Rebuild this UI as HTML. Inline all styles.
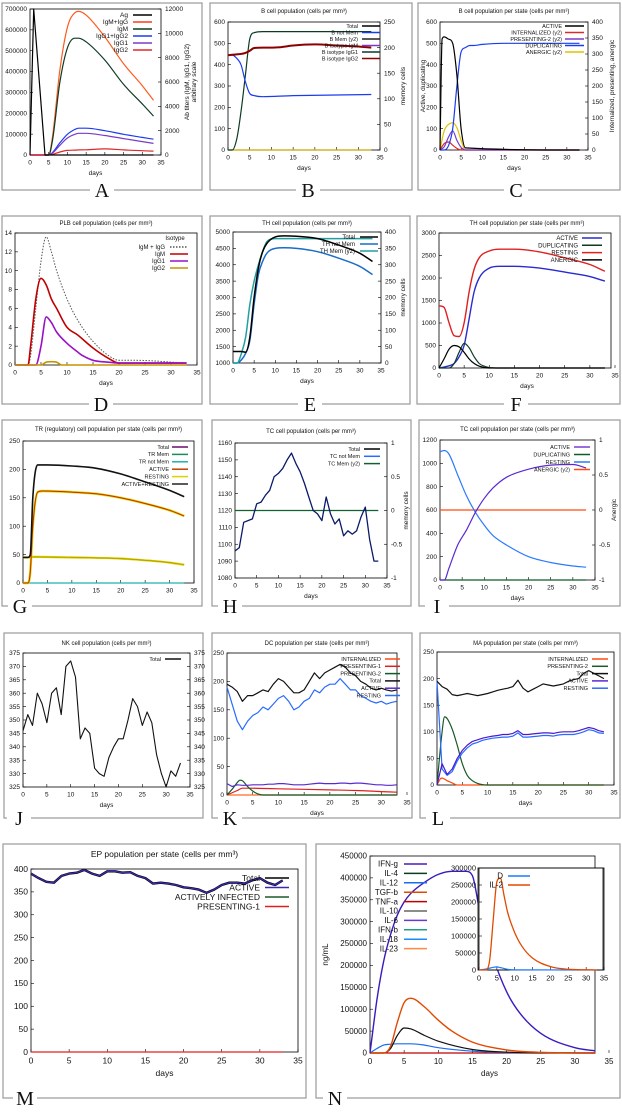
<!DOCTYPE html>
<html><head><meta charset="utf-8"><style>
html,body{margin:0;padding:0;background:#fff;}
svg{display:block;font-family:"Liberation Sans",sans-serif;}
</style></head><body>
<svg id="fig" width="622" height="1116" viewBox="0 0 622 1116" xmlns="http://www.w3.org/2000/svg">
<rect x="0" y="0" width="622" height="1116" fill="#fff"/>
</svg>
<script>
// ---------- DATA ----------
const DAYS = Array.from({length:34},(_,i)=>i);
// A
const A_ag_d=[0,1,4,33], A_ag=[0,700000,0,0];
const A_d=[0,5,6,8,10,12,13,15,20,25,30,33];
const A_igmg=[0,0,1500,7000,10500,11700,11800,11500,9700,7500,5700,4500];
const A_igm=[0,0,1200,6000,8800,9600,9600,9300,7800,5800,4200,3200];
const A_igg12=[0,0,200,1000,1700,2100,2200,2200,2000,1700,1450,1300];
const A_igg1=[0,0,150,800,1400,1700,1780,1780,1600,1350,1100,950];
const A_igg2=[0,0,50,250,380,400,420,430,500,420,350,320];
// B
const B_tot_d=[0,1,2,3,4,5,6,8,10,33], B_tot=[0,0,50,180,350,520,550,555,555,555];
const B_nm_d=[0,1,2,3,4,5,6,8,15,33], B_nm=[445,445,430,400,320,265,255,250,255,260];
const B_mem_d=[0,2,4,5,6,8,10,12,15,20,25,30,33], B_mem=[445,448,455,465,478,480,480,482,490,495,490,485,480];
// C
const C_act_d=[0,0.5,1,2,3,4,5,6,33], C_act=[0,520,530,520,500,350,100,10,0];
const C_dup_d=[0,1,2,3,4,5,6,7,8,10,15,20,33], C_dup=[0,0,20,100,300,460,480,490,490,495,500,500,500];
const C_pre_d=[0,1,2,3,4,5,6,33], C_pre=[0,10,40,60,30,8,0,0];
const C_ane_d=[0,1,2,3,4,5,6,33], C_ane=[0,60,80,85,70,30,0,0];
const C_int_d=[0,1,2,3,4,5,33], C_int=[0,20,25,15,5,0,0];
// D
const D_all_d=[0,2.5,3,4,5,6,7,8,10,12,15,18,20,23,33], D_all=[0,0,1,6,11,13.6,12,10,7,4.8,2.5,1,0.5,0.5,0.2];
const D_igm_d=[0,2.5,3,4,5,6,7,8,10,12,15,18,20,33], D_igm=[0,0,2,7,9.2,8.5,7,6,4,3.2,1.8,0.7,0.2,0.2];
const D_g1_d=[0,4,5,6,7,8,10,12,13,15,18,20,33], D_g1=[0,0,2,5.1,4.5,3.5,2.3,1.4,1,0.5,0.3,0.2,0.2];
const D_g2_d=[0,5,6,7,8,9,33], D_g2=[0,0,0.3,0.35,0.3,0,0];
// E
const E_tot_d=[0,2,3,4,5,6,7,8,10,12,15,20,25,30,33], E_tot=[1350,1350,1330,1800,3000,3900,4400,4650,4850,4880,4870,4800,4600,4350,4100];
const E_nm_d=[0,1,2,3,4,5,6,7,8,10,12,15,20,25,30,33], E_nm=[1000,1000,1100,1300,1700,2800,3700,4100,4350,4500,4520,4500,4400,4200,3950,3700];
const E_mem_d=[0,1,2,3,4,5,6,7,8,10,15,20,25,33], E_mem=[0,0,30,80,180,250,300,340,370,380,380,380,380,380];
// F
const F_res_d=[0,1,2,3,4,5,6,7,8,10,12,15,20,25,30,33], F_res=[1380,1350,1000,720,700,1000,1700,2200,2450,2600,2640,2640,2580,2450,2300,2150];
const F_act_d=[0,2,3,4,5,6,7,8,10,12,15,20,25,30,33], F_act=[0,50,100,250,500,1100,1700,2000,2220,2260,2260,2220,2130,2030,1930];
const F_ane_d=[0,1,2,3,4,5,6,7,8,10,33], F_ane=[0,200,420,500,470,350,200,100,40,0,0];
const F_dup_d=[0,2,3,4,5,6,7,8,9,10,12,33], F_dup=[0,0,100,350,550,450,250,100,40,10,0,0];
// G
const G_tot_d=[0,1,1.5,2,3,5,10,15,20,25,30,33], G_tot=[45,45,50,150,208,208,206,202,192,178,163,152];
const G_act_d=[0,1,1.5,2,3,4,10,15,20,25,30,33], G_act=[0,0,20,100,160,162,160,157,150,140,128,118];
const G_res_d=[0,1,2,3,10,20,25,30,33], G_res=[45,45,46,46,45,43,40,36,32];
// H
const H_tot=[1096,1098,1113,1114,1115,1124,1125,1129,1132,1140,1142,1145,1150,1154,1148,1143,1136,1128,1120,1118,1114,1128,1118,1112,1115,1105,1108,1106,1108,1116,1122,1103,1090,1090];
// I
const I_d=[0,1,2,4,6,8,10,12,15,20,25,30,33];
const I_act=[0,0,100,300,430,580,700,790,880,950,985,990,960];
const I_res=[1100,1110,1080,900,720,580,470,380,300,200,150,120,110];
// J
const J_tot=[346,352,348,360,356,349,360,362,352,370,372,366,343,347,345,332,330,329,336,340,343,343,350,358,355,348,353,349,337,330,325,331,329,334];
// K
const K_tot=[195,190,182,165,175,175,180,185,182,195,205,200,190,180,180,185,200,215,205,215,220,225,230,225,215,210,200,195,188,185,188,185,183,185];
const K_res=[190,160,130,115,130,140,145,155,150,160,170,175,165,150,155,165,170,185,180,190,195,195,205,195,185,185,175,170,165,162,165,160,163,165];
const K_act=[20,15,18,17,17,18,18,18,19,19,20,20,19,18,18,18,19,20,21,20,20,20,21,21,20,21,21,20,19,18,18,17,17,18];
const K_p2_d=[0,1,2,2.5,3,4,5,6,7,33], K_p2=[0,10,22,26,25,15,7,2,0,0];
const K_p1_d=[0,2,3,4,10,20,25,30,33], K_p1=[0,8,12,12,11,9,8,6,5];
// L
const L_tot=[195,185,180,170,168,170,172,170,168,170,172,175,178,180,182,185,197,182,175,180,185,190,188,186,188,190,195,198,200,210,215,210,205,200];
const L_act=[0,40,20,30,50,65,75,82,85,88,90,92,93,95,95,97,102,95,95,96,97,98,98,97,99,100,100,100,102,105,108,106,102,100];
const L_res=[195,30,18,25,45,60,70,77,80,84,86,88,89,90,90,92,98,90,90,91,92,93,93,92,94,95,95,95,97,100,104,102,98,97];
const L_p2_d=[0,1,1.5,2,3,4,5,6,7,8,10,33], L_p2=[0,100,128,125,105,75,40,18,8,3,0,0];
const L_int_d=[0,0.7,1,2,3,4,33], L_int=[0,12,13,8,4,0,0];
// M
const M_act=[390,380,372,370,385,390,392,398,390,385,395,395,392,393,385,380,368,370,368,365,360,358,355,348,355,365,370,370,368,375,380,370,365,375];
// N
const N_ifng_d=[0,1,2,3,4,5,6,8,10,12,14,15,16,18,20,22,25,30,33], N_ifng=[0,120000,210000,270000,315000,345000,365000,390000,408000,415000,415000,405000,330000,220000,140000,90000,45000,12000,5000];
const N_il10_d=[0,2,3,4,5,6,8,10,15,20,25,33], N_il10=[0,0,10000,40000,57000,55000,40000,27000,8000,2000,300,0];
const N_tgf_d=[0,2,3,4,5,6,8,10,12,15,20,25,33], N_tgf=[0,0,15000,70000,115000,125000,105000,75000,50000,25000,7000,1500,0];
const N_il12_d=[0,1,2,3,4,5,6,8,10,15,20,33], N_il12=[0,10000,18000,20000,21000,21000,21000,18000,12000,4000,1000,0];
const N_il2_d=[0,2,3,4,5,6,7,8,10,12,15,20,25,30,33], N_il2=[0,0,30000,150000,260000,270000,220000,170000,110000,70000,35000,10000,2000,500,0];
const N_dd_d=[0,2,4,5,6,8,10,33], N_dd=[0,3000,8000,9000,7000,2000,500,0];

// ---------- HELPERS ----------
const NS='http://www.w3.org/2000/svg';
const svg=document.getElementById('fig');
function mk(tag,parent){const e=document.createElementNS(NS,tag);parent.appendChild(e);return e;}
function at(e,o){for(const k in o)e.setAttribute(k,o[k]);return e;}
function text(parent,x,y,s,size,anchor,name,rot,family){
  const t=mk('text',parent);
  at(t,{x:x,y:y,'font-size':size,'text-anchor':anchor||'start',fill:'#111'});
  if(family)t.setAttribute('font-family',family);
  if(rot)t.setAttribute('transform','rotate(-90 '+x+' '+y+')');
  t.textContent=s;
  
  
  return t;
}
function fmt(v){return Math.abs(v)<1e-9?'0':String(Math.round(v*100)/100);}
function panel(c){
  const g=mk('g',svg);
  
  
  const fr=mk('rect',g);
  at(fr,{x:c.fx,y:c.fy,width:c.fw,height:c.fh,fill:'none',stroke:'#999','stroke-width':1.2});
  
  
  const lw=18;
  const bg=mk('rect',g);
  at(bg,{x:c.lx-lw/2-3,y:c.fy+c.fh-4,width:lw+6,height:8,fill:'#fff'});
  
  
  text(g,c.lx,c.fy+c.fh+7,c.label,20,'middle','panel-label','', '"Liberation Serif",serif');
  const fs=c.fs||6.5;
  const X=v=>c.x0+(v-c.xmin)/(c.xmax-c.xmin)*(c.x1-c.x0);
  const Y=v=>c.yb+(v-c.ymin)/(c.ymax-c.ymin)*(c.yt-c.yb);
  let Y2=Y;
  if(c.y2)Y2=v=>c.yb+(v-c.y2.min)/(c.y2.max-c.y2.min)*(c.yt-c.yb);
  if(c.title)text(g,(c.x0+c.x1)/2,c.ty,c.title,c.tfs||6,'middle','chart-title');
  const box=mk('rect',g);
  at(box,{x:c.x0,y:c.yt,width:(c.bx1||c.x1)-c.x0,height:c.yb-c.yt,fill:'none',stroke:'#000','stroke-width':0.8});
  
  
  for(let v=c.xmin;v<=c.xmax+1e-9;v+=c.xstep){
    const x=X(v);
    const tk=mk('line',g);at(tk,{x1:x,x2:x,y1:c.yb,y2:c.yb-3,stroke:'#000','stroke-width':0.6});
    
    
    text(g,x,c.yb+fs+3,fmt(v),fs,'middle','x-tick-label');
  }
  if(c.xlab!==false)text(g,(c.x0+c.x1)/2,c.yb+2*fs+7,'days',fs,'middle','x-axis-title');
  for(let v=c.ymin;v<=c.ymax+1e-9;v+=c.ystep){
    const y=Y(v);
    const tk=mk('line',g);at(tk,{x1:c.x0,x2:c.x0+3,y1:y,y2:y,stroke:'#000','stroke-width':0.6});
    
    
    text(g,c.x0-3,y+fs/3,fmt(v),fs,'end','y-tick-label');
  }
  if(c.y2){
    const bx=c.bx1||c.x1;
    for(let v=c.y2.min;v<=c.y2.max+1e-9;v+=c.y2.step){
      const y=Y2(v);
      const tk=mk('line',g);at(tk,{x1:bx,x2:bx-3,y1:y,y2:y,stroke:'#000','stroke-width':0.6});
      
      
      text(g,bx+4,y+fs/3,fmt(v),fs,'start','y2-tick-label');
    }
    if(c.y2.label)text(g,c.y2.lx,(c.yb+c.yt)/2,c.y2.label,fs,'middle','y2-axis-title',true);
    if(c.y2.label2)text(g,c.y2.lx+7,(c.yb+c.yt)/2,c.y2.label2,fs,'middle','y2-axis-title',true);
  }
  if(c.ylabel)text(g,c.ylx,(c.yb+c.yt)/2,c.ylabel,fs,'middle','y-axis-title',true);
  return {g:g,X:X,Y:Y,Y2:Y2};
}
// monotone cubic path through pixel points
function smoothPath(px,py){
  const n=px.length;
  if(n<3){return 'M'+px.map((x,i)=>x.toFixed(1)+','+py[i].toFixed(1)).join(' L');}
  const d=[],m=new Array(n);
  for(let i=0;i<n-1;i++)d.push((py[i+1]-py[i])/((px[i+1]-px[i])||1e-6));
  m[0]=d[0];m[n-1]=d[n-2];
  for(let i=1;i<n-1;i++){m[i]=(d[i-1]*d[i]<=0)?0:(d[i-1]+d[i])/2;}
  for(let i=0;i<n-1;i++){
    if(d[i]===0){m[i]=0;m[i+1]=0;continue;}
    const a=m[i]/d[i],b=m[i+1]/d[i],s=a*a+b*b;
    if(s>9){const t=3/Math.sqrt(s);m[i]=t*a*d[i];m[i+1]=t*b*d[i];}
  }
  let p='M'+px[0].toFixed(1)+','+py[0].toFixed(1);
  for(let i=0;i<n-1;i++){
    const h=(px[i+1]-px[i])/3;
    p+=' C'+(px[i]+h).toFixed(1)+','+(py[i]+m[i]*h).toFixed(1)+' '+(px[i+1]-h).toFixed(1)+','+(py[i+1]-m[i+1]*h).toFixed(1)+' '+px[i+1].toFixed(1)+','+py[i+1].toFixed(1);
  }
  return p;
}
function series(P,xs,ys,color,name,o){
  o=o||{};
  const Yf=o.y2?P.Y2:P.Y;
  const px=xs.map(x=>P.X(x)),py=ys.map(v=>Yf(v));
  const pl=mk('path',P.g);
  const dstr=o.sharp?'M'+px.map((x,i)=>x.toFixed(1)+','+py[i].toFixed(1)).join(' L'):smoothPath(px,py);
  at(pl,{d:dstr,fill:'none',stroke:color,'stroke-width':o.w||1.2,'stroke-linejoin':'round'});
  if(o.dash)pl.setAttribute('stroke-dasharray',o.dash);
  
  
  return pl;
}
function legend(P,items,tx,y0,dy,l1,l2,fs){
  items.forEach((it,i)=>{
    const y=y0+i*dy;
    text(P.g,tx,y+fs/3,it[0],fs,'end','legend-label');
    const ln=mk('line',P.g);
    at(ln,{x1:l1,x2:l2,y1:y,y2:y,stroke:it[1],'stroke-width':1.5});
    if(it[2])ln.setAttribute('stroke-dasharray',it[2]);
    
    
  });
}
const zero=[0,33],zz=[0,0];
const SH={sharp:1};

// ---------- A ----------
let P=panel({name:'panel-a-antigen-antibody',fx:2,fy:3,fw:200,fh:187,lx:102,label:'A',x0:30,x1:161,xmin:0,xmax:35,xstep:5,yb:155,yt:9,ymin:0,ymax:700000,ystep:100000,y2:{min:0,max:12000,step:2000,label:'Ab titers (IgM, IgG1, IgG2)',label2:'arbitrary scale',lx:189}});
series(P,A_d,A_igmg,'#ff5a1e','igm-igg-line',{y2:1});
series(P,A_d,A_igm,'#0d3b22','igm-line',{y2:1});
series(P,A_d,A_igg12,'#1a3cf0','igg1-igg2-line',{y2:1});
series(P,A_d,A_igg1,'#7a3cc8','igg1-line',{y2:1});
series(P,A_d,A_igg2,'#e02828','igg2-line',{y2:1});
series(P,A_ag_d,A_ag,'#000','antigen-line',SH);
legend(P,[['Ag','#000'],['IgM+IgG','#ff3b1e'],['IgM','#0d3b22'],['IgG1+IgG2','#1a3cf0'],['IgG1','#7a3cc8'],['IgG2','#e02828']],128,15,7,133,152,6.5);

// ---------- B ----------
P=panel({name:'panel-b-b-cell-population',fx:210,fy:3,fw:202,fh:187,lx:308,label:'B',title:'B cell population (cells per mm³)',ty:13,x0:228,x1:380,xmin:0,xmax:35,xstep:5,yb:150,yt:22,ymin:0,ymax:600,ystep:100,y2:{min:0,max:250,step:50,label:'memory cells',lx:405}});
series(P,zero,zz,'#c8a800','b-isotype-lines',SH);
series(P,B_tot_d,B_tot,'#0d3b22','total-line');
series(P,B_nm_d,B_nm,'#1a3cf0','b-not-mem-line');
series(P,B_mem_d,B_mem,'#8b0000','b-mem-line',{w:2});
legend(P,[['Total','#000'],['B not Mem','#1a3cf0'],['B Mem (y2)','#222'],['B isotype IgM','#7a3cc8'],['B isotype IgG1','#0d3b22'],['B isotype IgG2','#8b0000']],358,26,6.5,362,380,5.5);

// ---------- C ----------
P=panel({name:'panel-c-b-cell-states',fx:418,fy:3,fw:202,fh:187,lx:516,label:'C',title:'B cell population per state (cells per mm³)',ty:13,x0:440,x1:588,xmin:0,xmax:35,xstep:5,yb:150,yt:22,ymin:0,ymax:600,ystep:100,ylabel:'Active, duplicating',ylx:425,y2:{min:0,max:400,step:50,label:'Internalized, presenting, anergic',lx:614}});
series(P,C_ane_d,C_ane,'#e0c000','anergic-line',{y2:1});
series(P,C_int_d,C_int,'#e02828','internalized-line',{y2:1});
series(P,C_pre_d,C_pre,'#7a3cc8','presenting-line',{y2:1});
series(P,C_dup_d,C_dup,'#1a3cf0','duplicating-line');
series(P,C_act_d,C_act,'#000','active-line');
legend(P,[['ACTIVE','#000'],['INTERNALIZED (y2)','#e02828'],['PRESENTING-2 (y2)','#7a3cc8'],['DUPLICATING','#1a3cf0'],['ANERGIC (y2)','#e0c000']],562,26,6.5,565,584,5.5);

// ---------- D ----------
P=panel({name:'panel-d-plb-cells',fx:2,fy:216,fw:200,fh:188,lx:101,label:'D',title:'PLB cell population (cells per mm³)',ty:225,x0:15,x1:197,xmin:0,xmax:35,xstep:5,yb:365,yt:233,ymin:0,ymax:14,ystep:2});
series(P,D_all_d,D_all,'#555','igm-igg-dotted',{dash:'1.5,1.5',w:1});
series(P,D_igm_d,D_igm,'#c00000','igm-line',{w:1.6});
series(P,D_g1_d,D_g1,'#9a10c8','igg1-line',{w:1.6});
series(P,D_g2_d,D_g2,'#c89400','igg2-line',{w:1.6});
text(P.g,175,240,'Isotype',6,'middle','legend-title');
legend(P,[['IgM + IgG','#555','1.5,1.5'],['IgM','#c00000'],['IgG1','#9a10c8'],['IgG2','#c89400']],165,247,7,170,188,6);

// ---------- E ----------
P=panel({name:'panel-e-th-cells',fx:210,fy:216,fw:200,fh:188,lx:310,label:'E',title:'TH cell population (cells per mm³)',ty:225,x0:233,x1:381,xmin:0,xmax:35,xstep:5,yb:363,yt:232,ymin:1000,ymax:5000,ystep:500,y2:{min:0,max:400,step:50,label:'memory cells',lx:405}});
series(P,E_nm_d,E_nm,'#1a6cc8','th-not-mem-line',{w:1.5});
series(P,E_mem_d,E_mem,'#20a0a0','th-mem-line',{y2:1,w:1.5});
series(P,E_tot_d,E_tot,'#000','total-line',{w:1.5});
legend(P,[['Total','#000'],['TH not Mem','#1a6cc8'],['TH Mem (y2)','#20a0a0']],355,237,7,360,378,6);

// ---------- F ----------
P=panel({name:'panel-f-th-states',fx:417,fy:216,fw:203,fh:188,lx:516,label:'F',title:'TH cell population per state (cells per mm³)',ty:225,x0:439,x1:615,bx1:611,xmin:0,xmax:35,xstep:5,yb:368,yt:233,ymin:0,ymax:3000,ystep:500});
series(P,F_res_d,F_res,'#e02020','resting-line',{w:1.4});
series(P,F_act_d,F_act,'#2a2ad0','active-line',{w:1.4});
series(P,F_dup_d,F_dup,'#0d3b22','duplicating-line');
series(P,F_ane_d,F_ane,'#000','anergic-line');
legend(P,[['ACTIVE','#2a2ad0'],['DUPLICATING','#0d3b22'],['RESTING','#e02020'],['ANERGIC','#000']],578,238,7.3,582,602,6);

// ---------- G ----------
P=panel({name:'panel-g-treg-cells',fx:2,fy:420,fw:200,fh:186,lx:20,label:'G',title:'TR (regulatory) cell population per state (cells per mm³)',ty:431,x0:23,x1:194,xmin:0,xmax:35,xstep:5,yb:583,yt:441,ymin:0,ymax:250,ystep:50,xlab:false});
series(P,zero,zz,'#20b0b0','tr-mem-lines',SH);
series(P,G_res_d,G_res,'#e0d000','resting-line',{w:2.2});
series(P,G_res_d,G_res,'#999000','resting-core',{w:0.6});
series(P,G_act_d,G_act,'#e0d000','active-outline',{w:2.4});
series(P,G_act_d,G_act,'#c03000','active-line',{w:1});
series(P,G_tot_d,G_tot,'#111','total-line',{w:1.6});
legend(P,[['Total','#6a0a6a'],['TR Mem','#1a8a5a'],['TR not Mem','#20b0b0'],['ACTIVE','#c04000'],['RESTING','#e0d000'],['ACTIVE+RESTING','#222']],169,447,7.4,172,188,5.5);

// ---------- H ----------
P=panel({name:'panel-h-tc-cells',fx:212,fy:420,fw:199,fh:186,lx:230,label:'H',title:'TC cell population (cells per mm³)',ty:433,x0:235,x1:387,xmin:0,xmax:35,xstep:5,yb:578,yt:443,ymin:1080,ymax:1160,ystep:10,y2:{min:-1,max:1,step:0.5,label:'memory cells',lx:408}});
series(P,[0,33],[0,0],'#106030','tc-mem-line',{y2:1,w:1.2,sharp:1});
series(P,DAYS,H_tot,'#0a1a6a','total-line',{w:1.3,sharp:1});
legend(P,[['Total','#000'],['TC not Mem','#2a6aff'],['TC Mem (y2)','#106030']],360,449,7.3,364,380,5.5);

// ---------- I ----------
P=panel({name:'panel-i-tc-states',fx:419,fy:420,fw:201,fh:186,lx:437,label:'I',title:'TC cell population per state (cells per mm³)',ty:431,x0:440,x1:595,xmin:0,xmax:35,xstep:5,yb:580,yt:440,ymin:0,ymax:1200,ystep:200,y2:{min:-1,max:1,step:0.5,label:'Anergic',lx:616}});
series(P,[0,33],[0,0],'#0d5a2a','duplicating-line',SH);
series(P,[0,33],[0,0],'#ff4a10','anergic-line',{y2:1,w:1.3,sharp:1});
series(P,I_d,I_res,'#2a7aff','resting-line',{w:1.2});
series(P,I_d,I_act,'#5a2ad0','active-line',{w:1.2});
legend(P,[['ACTIVE','#7a3cd0'],['DUPLICATING','#0d5a2a'],['RESTING','#2a7aff'],['ANERGIC (y2)','#ff4a10']],570,447,7.5,574,590,5.5);

// ---------- J ----------
P=panel({name:'panel-j-nk-cells',fx:4,fy:633,fw:199,fh:185,lx:19,label:'J',title:'NK cell population (cells per mm³)',ty:645,x0:23,x1:190,xmin:0,xmax:35,xstep:5,yb:787,yt:653,ymin:325,ymax:375,ystep:5,y2:{min:325,max:375,step:5}});
series(P,DAYS,J_tot,'#111','total-line',{w:1.1,sharp:1});
legend(P,[['Total','#111']],161,659,7,165,181,5.5);

// ---------- K ----------
P=panel({name:'panel-k-dc-states',fx:212,fy:633,fw:200,fh:185,lx:230,label:'K',title:'DC population per state (cells per mm³)',ty:645,x0:227,x1:407,bx1:397,xmin:0,xmax:35,xstep:5,yb:795,yt:653,ymin:0,ymax:250,ystep:50});
series(P,[0,33],[0,0],'#ff6a20','internalized-line',SH);
series(P,K_p1_d,K_p1,'#e02020','presenting-1-line');
series(P,K_p2_d,K_p2,'#0d5a2a','presenting-2-line');
series(P,DAYS,K_act,'#5a2ad0','active-line',SH);
series(P,DAYS,K_res,'#2a6aff','resting-line',SH);
series(P,DAYS,K_tot,'#111','total-line',SH);
legend(P,[['INTERNALIZED','#ff4a10'],['PRESENTING-1','#e02020'],['PRESENTING-2','#0d5a2a'],['Total','#111'],['ACTIVE','#5a2ad0'],['RESTING','#2a6aff']],381,659,7.3,385,400,5.5);

// ---------- L ----------
P=panel({name:'panel-l-ma-states',fx:420,fy:633,fw:200,fh:185,lx:438,label:'L',title:'MA population per state (cells per mm³)',ty:645,x0:437,x1:614,xmin:0,xmax:35,xstep:5,yb:785,yt:652,ymin:0,ymax:250,ystep:50});
series(P,L_int_d,L_int,'#ff4a10','internalized-line');
series(P,L_p2_d,L_p2,'#1a5a2a','presenting-2-line');
series(P,DAYS,L_res,'#2a6aff','resting-line',SH);
series(P,DAYS,L_act,'#4a1ad0','active-line',SH);
series(P,DAYS,L_tot,'#111','total-line',SH);
legend(P,[['INTERNALIZED','#ff4a10'],['PRESENTING-2','#1a5a2a'],['Total','#111'],['ACTIVE','#5a2ad0'],['RESTING','#2a6aff']],588,659,7.3,592,608,5.5);

// ---------- M ----------
P=panel({name:'panel-m-ep-states',fx:3,fy:844,fw:303,fh:254,lx:25,label:'M',title:'EP population per state (cells per mm³)',ty:857,tfs:8.5,fs:8.5,x0:31,x1:298,xmin:0,xmax:35,xstep:5,yb:1052,yt:869,ymin:0,ymax:400,ystep:50});
series(P,[0,33],[0,0],'#e02020','presenting-1-line',SH);
series(P,DAYS,M_act,'#000','total-line',{w:2.4,sharp:1});
series(P,DAYS,M_act,'#3a2ab0','active-line',{w:1.3,sharp:1});
legend(P,[['Total','#000'],['ACTIVE','#3a2ab0'],['ACTIVELY INFECTED','#1a5a2a'],['PRESENTING-1','#e02020']],260,878,9.5,265,289,8.5);

// ---------- N ----------
P=panel({name:'panel-n-cytokines',fx:316,fy:844,fw:304,fh:254,lx:335,label:'N',fs:8,x0:370,x1:609,bx1:595,xmin:0,xmax:35,xstep:5,yb:1053,yt:856,ymin:0,ymax:450000,ystep:50000,ylabel:'ng/mL',ylx:328});
series(P,[0,33],[0,0],'#c00000','tnf-a-line',SH);
series(P,N_il12_d,N_il12,'#1a6cf0','il-12-line');
series(P,N_il10_d,N_il10,'#111','il-10-line');
series(P,N_tgf_d,N_tgf,'#e04a00','tgf-b-line',{w:1.4});
series(P,N_ifng_d,N_ifng,'#3a1ac0','ifn-g-line',{w:1.4});
legend(P,[['IFN-g','#4a1ac0'],['IL-4','#0d3b22'],['IL-12','#1a6cf0'],['TGF-b','#e04a00'],['TNF-a','#c00000'],['IL-10','#666'],['IL-6','#6a3ad0'],['IFN-b','#20a080'],['IL-18','#1a8aff'],['IL-23','#ff8a40']],398,864,9.4,404,427,8);
// inset
const ib=mk('rect',P.g);
at(ib,{x:478,y:868,width:125,height:102,fill:'#fff',stroke:'#000','stroke-width':0.8});


const Q=panel({name:'panel-n-inset',fx:-50,fy:-50,fw:1,fh:1,lx:-50,label:'',fs:7.5,x0:479,x1:604,xmin:0,xmax:35,xstep:5,yb:970,yt:868,ymin:0,ymax:300000,ystep:50000,xlab:false});
series(Q,N_dd_d,N_dd,'#1a7aff','d-line');
series(Q,N_il2_d,N_il2,'#e04a00','il-2-line',{w:1.3});
legend(Q,[['D','#1a7aff'],['IL-2','#e04a00']],503,876,9,508,530,8);
</script>
</body></html>
